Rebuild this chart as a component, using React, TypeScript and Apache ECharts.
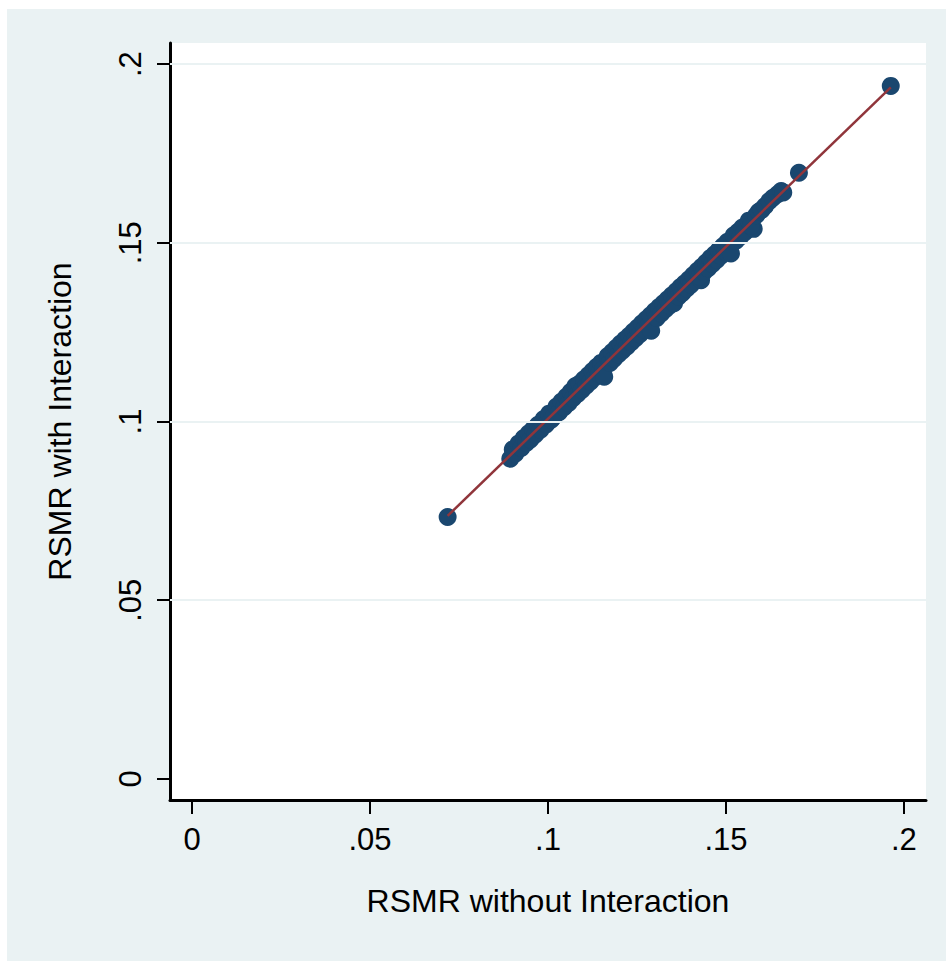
import React, { useEffect, useRef } from "react";
import * as echarts from "echarts";

// RSMR without interaction (x) vs RSMR with interaction (y)
const rsmrWithout: number[] = [
  0.0718, 0.0894, 0.0901, 0.0908, 0.0917, 0.0925, 0.0932, 0.0939, 0.0946, 0.0951,
  0.0958, 0.0965, 0.0972, 0.0979, 0.0988, 0.0995, 0.1003, 0.1009, 0.1016, 0.1024,
  0.1031, 0.1038, 0.1045, 0.1052, 0.1058, 0.1064, 0.107, 0.1077, 0.1083, 0.1089,
  0.1095, 0.1101, 0.1107, 0.1113, 0.1119, 0.1125, 0.1131, 0.1137, 0.1143, 0.1149,
  0.1155, 0.1158, 0.1168, 0.1174, 0.118, 0.1186, 0.1192, 0.1198, 0.1204, 0.121,
  0.1216, 0.1222, 0.1228, 0.1234, 0.124, 0.1246, 0.1252, 0.1258, 0.1264, 0.127,
  0.1276, 0.1282, 0.1288, 0.129, 0.13, 0.1306, 0.1312, 0.1318, 0.1324, 0.133,
  0.1336, 0.1342, 0.1348, 0.1354, 0.136, 0.1366, 0.1372, 0.1378, 0.1384, 0.139,
  0.1396, 0.1402, 0.1408, 0.143, 0.142, 0.1426, 0.1432, 0.1438, 0.1444, 0.145,
  0.1456, 0.1462, 0.1468, 0.1474, 0.148, 0.1486, 0.1492, 0.1498, 0.1504, 0.151,
  0.1514, 0.1522, 0.1528, 0.1534, 0.154, 0.1546, 0.1552, 0.1578, 0.1564, 0.157,
  0.1585, 0.1592, 0.16, 0.161, 0.1622, 0.1632, 0.1645, 0.1655, 0.1661, 0.1705,
  0.1963,
];
const rsmrWith: number[] = [
  0.0733, 0.0896, 0.0922, 0.091, 0.0938, 0.0926, 0.0954, 0.094, 0.0967, 0.095,
  0.0978, 0.0964, 0.0991, 0.0977, 0.1007, 0.0992, 0.1022, 0.1005, 0.1013, 0.1042,
  0.1026, 0.1056, 0.104, 0.107, 0.1052, 0.1083, 0.1065, 0.1099, 0.1077, 0.1106,
  0.1088, 0.1118, 0.11, 0.1129, 0.1111, 0.1141, 0.1123, 0.1153, 0.1134, 0.1164,
  0.1146, 0.1125, 0.1183, 0.1164, 0.1194, 0.1176, 0.1206, 0.1188, 0.1218, 0.1199,
  0.1229, 0.121, 0.124, 0.1222, 0.1252, 0.1233, 0.1263, 0.1244, 0.1275, 0.1256,
  0.1286, 0.1267, 0.1297, 0.1254, 0.1309, 0.129, 0.132, 0.1302, 0.1331, 0.1314,
  0.1342, 0.1325, 0.1353, 0.1331, 0.1364, 0.1349, 0.1376, 0.136, 0.1387, 0.1372,
  0.1398, 0.1383, 0.141, 0.1395, 0.1422, 0.1406, 0.1433, 0.1418, 0.1445, 0.1429,
  0.1457, 0.1441, 0.1468, 0.1452, 0.148, 0.1464, 0.1491, 0.1475, 0.1503, 0.1487,
  0.147, 0.1521, 0.1506, 0.1531, 0.1517, 0.1543, 0.1529, 0.1539, 0.1562, 0.1548,
  0.1577, 0.1587, 0.1592, 0.1603, 0.1617, 0.1626, 0.1636, 0.1645, 0.1641, 0.1696,
  0.1939,
];

// Linear fit line endpoints
const fitX: number[] = [0.0718, 0.1963];
const fitY: number[] = [0.0736, 0.1935];

const tickValues: number[] = [0, 0.05, 0.1, 0.15, 0.2];
const gridValues: number[] = [0.05, 0.1, 0.15, 0.2];

const fmt = (v: number) => (v === 0 ? "0" : String(v).replace(/^0/, ""));

export default function App() {
  const ref = useRef<HTMLDivElement>(null);
  useEffect(() => {
    if (!ref.current) return;
    const chart = echarts.init(ref.current, undefined, { renderer: "svg" });
    const font = "'Liberation Sans', Arial, sans-serif";
    chart.setOption({
      animation: false,
      backgroundColor: "#ffffff",
      graphic: [
        {
          type: "rect",
          z: -10,
          silent: true,
          shape: { x: 7, y: 9, width: 939, height: 952 },
          style: { fill: "#EAF2F3" },
        },
      ],
      grid: {
        left: 170,
        right: 20,
        top: 43,
        bottom: 161,
        show: true,
        backgroundColor: "#ffffff",
        borderWidth: 0,
      },
      xAxis: {
        type: "value",
        min: -0.0062,
        max: 0.2062,
        name: "RSMR without Interaction",
        nameLocation: "middle",
        nameGap: 85,
        nameTextStyle: { fontSize: 32, color: "#000", fontFamily: font },
        axisLine: { show: true, onZero: false, lineStyle: { color: "#000", width: 3 } },
        axisTick: {
          show: true,
          customValues: tickValues,
          length: 14,
          lineStyle: { color: "#000", width: 2 },
        },
        axisLabel: {
          customValues: tickValues,
          formatter: fmt,
          fontSize: 31,
          color: "#000",
          fontFamily: font,
          margin: 24,
        },
        splitLine: { show: false },
      },
      yAxis: {
        type: "value",
        min: -0.0059,
        max: 0.2059,
        name: "RSMR with Interaction",
        nameLocation: "middle",
        nameRotate: 90,
        nameGap: 94,
        nameTextStyle: { fontSize: 32, color: "#000", fontFamily: font },
        axisLine: { show: true, onZero: false, lineStyle: { color: "#000", width: 3 } },
        axisTick: {
          show: true,
          customValues: tickValues,
          length: 13,
          lineStyle: { color: "#000", width: 2 },
        },
        axisLabel: {
          customValues: tickValues,
          formatter: fmt,
          rotate: 90,
          fontSize: 31,
          color: "#000",
          fontFamily: font,
          margin: 24,
        },
        splitLine: { show: false },
      },
      series: [
        {
          type: "scatter",
          name: "gridlines",
          data: [],
          z: 1,
          silent: true,
          markLine: {
            silent: true,
            symbol: "none",
            label: { show: false },
            lineStyle: { color: "#EAF2F3", width: 2, type: "solid" },
            data: gridValues.map((v) => ({ yAxis: v })),
          },
        },
        {
          type: "scatter",
          name: "RSMR",
          z: 3,
          symbol: "circle",
          symbolSize: 18,
          itemStyle: { color: "#1A476F", opacity: 1 },
          data: rsmrWithout.map((x, i) => [x, rsmrWith[i]]),
        },
        {
          type: "line",
          name: "Fit",
          z: 4,
          symbol: "none",
          lineStyle: { color: "#90353B", width: 2.5 },
          data: fitX.map((x, i) => [x, fitY[i]]),
        },
      ],
    });
    return () => chart.dispose();
  }, []);
  return (
    <div
      ref={ref}
      style={{ position: "absolute", left: 0, top: 0, width: 946, height: 961 }}
    />
  );
}
